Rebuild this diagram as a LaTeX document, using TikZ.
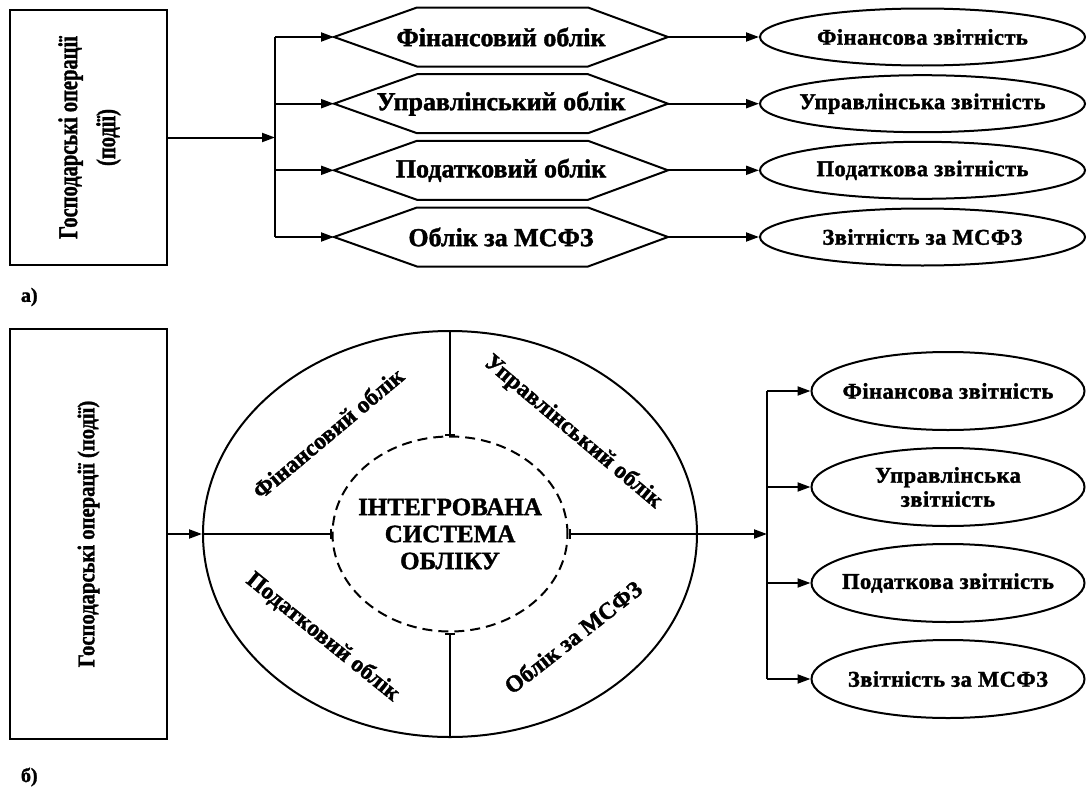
\documentclass[tikz,border=0pt]{standalone}
\usepackage{fontspec}
\setmainfont{Liberation Serif}[BoldFeatures={FakeBold=1.5}]
\usetikzlibrary{shapes.geometric,arrows.meta}
\newcommand{\lsp}[2]{{\addfontfeature{LetterSpace=#1}#2}}
\begin{document}
\begin{tikzpicture}[x=1pt,y=-1pt,line width=2pt,
  arr/.style={-{Triangle[length=13pt,width=9pt]}},
  hexa/.style={rectangle, minimum width=332pt, minimum height=57pt, inner sep=0pt,
    font=\fontsize{26}{30}\selectfont\bfseries},
  ovaltop/.style={ellipse, draw, minimum width=325pt, minimum height=57pt, inner ysep=0pt, inner xsep=-30pt,
    font=\fontsize{22.5}{26}\selectfont\bfseries},
  ovalbot/.style={ellipse, draw, minimum width=273pt, minimum height=78pt, inner ysep=0pt, inner xsep=-30pt,
    align=center, font=\fontsize{22.5}{24}\selectfont\bfseries},
  boxstyle/.style={draw, rectangle, minimum width=157pt, inner sep=0pt},
  seclabel/.style={font=\fontsize{23.5}{26}\selectfont\bfseries, inner sep=0pt},
  tick/.style={-{Bar[width=10pt,line width=2pt]}},
  tag/.style={font=\fontsize{20}{24}\selectfont\bfseries, anchor=west, inner sep=0pt}
]
\useasboundingbox (0,0) rectangle (1087,787);

% ---------- part a ----------
\node[boxstyle, minimum height=255pt] (boxa) at (88.5,137.5)
  {\rotatebox{90}{\fontsize{27}{38}\selectfont\bfseries\scalebox{0.76}[1]{\begin{tabular}{@{}c@{}}Господарські операції\\(події)\end{tabular}}}};
\coordinate (ja) at (275,137.5);
\coordinate (ja1) at (275,37);
\coordinate (ja4) at (275,237);
\draw[arr] (boxa.east) -- (ja);
\draw (ja1) -- (ja4);

\node[hexa] (h1) at (501,37) {Фінансовий облік};
\node[hexa] (h2) at (501,103.7) {Управлінський облік};
\node[hexa] (h3) at (501,170.3) {Податковий облік};
\node[hexa] (h4) at (501,237) {Облік за МСФЗ};

\node[ovaltop] (r1) at (922.5,37) {\lsp{2}{Фінансова звітність}};
\node[ovaltop] (r2) at (922.5,103.7) {\lsp{2}{Управлінська звітність}};
\node[ovaltop] (r3) at (922.5,170.3) {\lsp{2}{Податкова звітність}};
\node[ovaltop] (r4) at (922.5,237) {\lsp{2}{Звітність за МСФЗ}};

\foreach \i in {1,...,4} {
  \draw (h\i.west) -- ([xshift=83pt]h\i.north west) -- ([xshift=-80pt]h\i.north east)
     -- (h\i.east) -- ([xshift=-80pt]h\i.south east) -- ([xshift=83pt]h\i.south west) -- cycle;
  \draw[arr] (ja|-h\i.west) -- (h\i.west);
  \draw[arr] (h\i.east) -- (r\i.west);
}

\node[tag] (ta) at (20,297) {а)};

% ---------- part b ----------
\node[boxstyle, minimum height=410pt] (boxb) at (88.5,534)
  {\rotatebox{90}{\fontsize{24}{28}\selectfont\bfseries\scalebox{0.86}[1]{Господарські операції (події)}}};

\node[ellipse, draw, minimum width=494pt, minimum height=406pt, inner sep=0pt] (oe) at (450,534) {};
\node[ellipse, draw, dash pattern=on 10pt off 6pt, minimum width=235pt, minimum height=195pt,
  inner ysep=0pt, inner xsep=-30pt, align=center, font=\fontsize{25}{27}\selectfont\bfseries] (ie) at (450,534)
  {ІНТЕГРОВАНА\\СИСТЕМА\\ОБЛІКУ};

\draw[tick] (oe.north) -- (ie.north);
\draw[tick] (oe.south) -- (ie.south);
\draw[tick] (oe.west) -- (ie.west);
\draw[arr] (boxb.east) -- (oe.west);

\node[seclabel, rotate=40] (s1) at (328,433) {Фінансовий облік};
\node[seclabel, rotate=-40] (s2) at (573,432) {Управлінський облік};
\node[seclabel, rotate=-39] (s3) at (323,637) {Податковий облік};
\node[seclabel, rotate=38] (s4) at (573,637) {Облік за МСФЗ};

\coordinate (jb) at (767,534);
\coordinate (jb1) at (767,391);
\coordinate (jb4) at (767,679);
\draw[{Bar[width=10pt,line width=2pt]}-{Triangle[length=13pt,width=9pt]}] (ie.east) -- (jb);
\draw (jb1) -- (jb4);

\node[ovalbot] (b1) at (948,391) {\lsp{2}{Фінансова звітність}};
\node[ovalbot] (b2) at (948,487) {\lsp{2}{Управлінська}\\\lsp{2}{звітність}};
\node[ovalbot] (b3) at (948,583) {\lsp{2}{Податкова звітність}};
\node[ovalbot] (b4) at (948,679) {\lsp{2}{Звітність за МСФЗ}};

\foreach \i in {1,...,4} {
  \draw[arr] (jb|-b\i.west) -- (b\i.west);
}

\node[tag] (tb) at (20,777) {б)};
\end{tikzpicture}
\end{document}
